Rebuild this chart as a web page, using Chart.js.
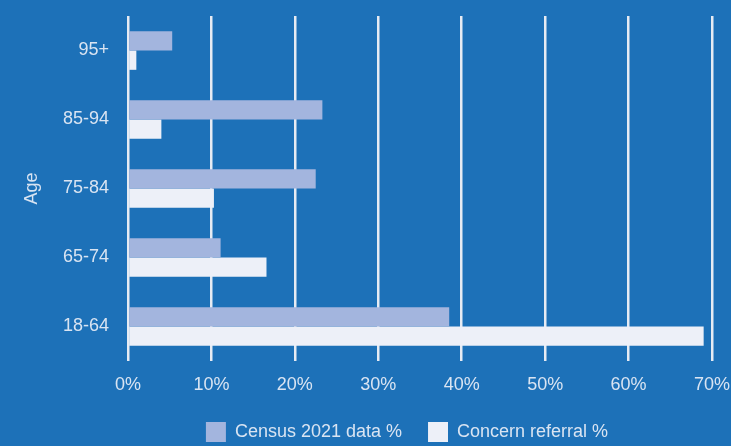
<!DOCTYPE html>
<html>
<head>
<meta charset="utf-8">
<script src="https://cdn.jsdelivr.net/npm/chart.js@4"></script>
<style>
  html, body { margin: 0; padding: 0; background: #1d71b8; overflow: hidden; }
  #chart { display: block; }
</style>
</head>
<body>
<canvas id="chart" width="731" height="446"></canvas>
<script>
const ageGroups = ["95+", "85-94", "75-84", "65-74", "18-64"];
const censusData = [5.3, 23.3, 22.5, 11.1, 38.5];
const concernData = [1.0, 4.0, 10.3, 16.6, 69.0];
const seriesNames = ["Census 2021 data %", "Concern referral %"];

const textColor = "#d9e4f2";
const fontFamily = "'Liberation Sans', Arial, sans-serif";

// legend sits a bit right of centre in the original
const legendNudge = {
  id: "legendNudge",
  afterLayout(chart) {
    const lg = chart.legend;
    lg.left += 51;
    lg.right += 51;
  },
};

const ctx = document.getElementById("chart").getContext("2d");
new Chart(ctx, {
  type: "bar",
  data: {
    labels: ageGroups,
    datasets: [
      {
        label: seriesNames[0],
        data: censusData,
        backgroundColor: "#a3b5de",
        borderWidth: 0,
      },
      {
        label: seriesNames[1],
        data: concernData,
        backgroundColor: "#edf0f8",
        borderWidth: 0,
      },
    ],
  },
  options: {
    indexAxis: "y",
    responsive: false,
    animation: false,
    categoryPercentage: 0.56,
    barPercentage: 1,
    layout: { padding: { top: 16, right: 19, left: 0, bottom: -6 } },
    scales: {
      x: {
        min: 0,
        max: 70,
        ticks: {
          stepSize: 10,
          padding: 13,
          color: textColor,
          font: { family: fontFamily, size: 18 },
          callback: (v) => v + "%",
        },
        grid: { color: "#e6ebf3", lineWidth: 2.5, drawTicks: false },
        border: { display: false },
        afterFit(scale) {
          scale.height = 35;
          scale.paddingLeft = 0;
          scale.paddingRight = 0;
        },
      },
      y: {
        ticks: {
          padding: 19,
          color: textColor,
          font: { family: fontFamily, size: 18 },
        },
        grid: { display: false, drawTicks: false },
        border: { display: false },
        title: {
          display: true,
          text: "Age",
          color: textColor,
          font: { family: fontFamily, size: 18 },
          padding: { top: 21, bottom: 0 },
        },
        afterFit(scale) {
          scale.width = 128;
          scale.paddingTop = 0;
          scale.paddingBottom = 0;
        },
      },
    },
    plugins: {
      legend: {
        position: "bottom",
        labels: {
          boxWidth: 20,
          boxHeight: 20,
          padding: 26,
          color: textColor,
          font: { family: fontFamily, size: 18 },
        },
      },
      tooltip: { enabled: false },
    },
  },
  plugins: [legendNudge],
});
</script>
</body>
</html>
